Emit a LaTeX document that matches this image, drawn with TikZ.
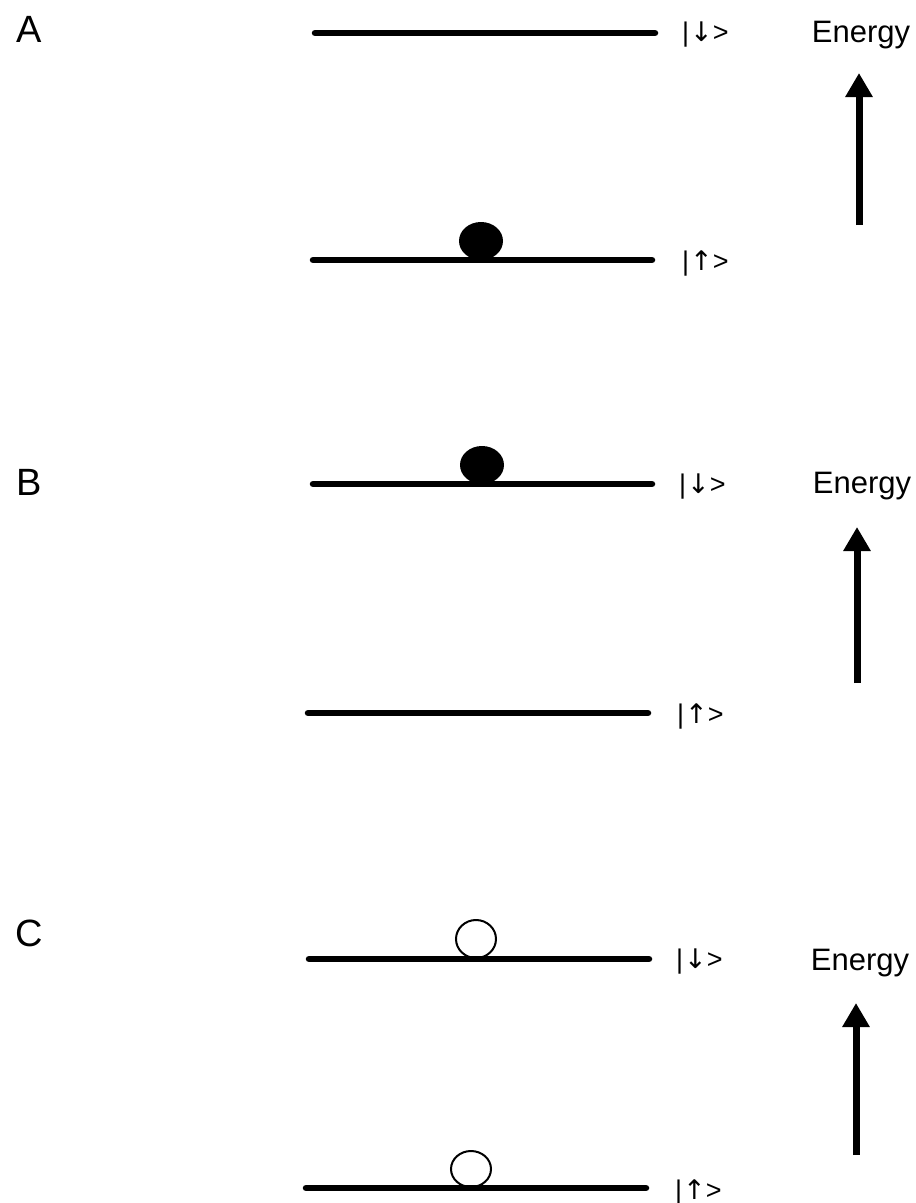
\documentclass[tikz,border=0pt]{standalone}
\usepackage{fontspec}
\setmainfont{Liberation Sans}
\newfontfamily\arrowfont{DejaVu Sans}
\usetikzlibrary{arrows.meta}
\newcommand{\ketdown}{|\kern1pt{\arrowfont ↓}\kern0pt>}
\newcommand{\ketup}{|\kern1pt{\arrowfont ↑}\kern0pt>}
\begin{document}
\begin{tikzpicture}[x=1pt,y=-1pt,
  level/.style={line width=6.5pt,line cap=round},
  earrow/.style={line width=7pt,-{Triangle[width=26pt,length=24pt]}},
  panel/.style={font=\fontsize{38}{40}\selectfont,inner sep=0pt},
  elabel/.style={font=\fontsize{31}{36}\selectfont,inner sep=0pt},
  ket/.style={font=\fontsize{27}{30}\selectfont,inner sep=0pt,anchor=west},
  openball/.style={line width=2pt}]
\useasboundingbox (0,0) rectangle (916,1203);

% ---------- Panel A ----------
\node[panel] (lA) at (29,29) {A};
\coordinate (a1l) at (315,33); \coordinate (a1r) at (655,33);
\draw[level] (a1l) -- (a1r);
\node[ket] (kA1) at (682,35) {\ketdown};
\coordinate (a2l) at (313,260); \coordinate (a2r) at (652,260);
\fill (481,241) ellipse [x radius=22, y radius=19];
\draw[level] (a2l) -- (a2r);
\node[ket] (kA2) at (682,263) {\ketup};
\node[elabel] (eA) at (861,35) {Energy};
\coordinate (ea0) at (859,225); \coordinate (ea1) at (859,73);
\draw[earrow] (ea0) -- (ea1);

% ---------- Panel B ----------
\node[panel] (lB) at (29,482) {B};
\coordinate (b1l) at (313,484); \coordinate (b1r) at (652,484);
\fill (482,465) ellipse [x radius=22, y radius=19];
\draw[level] (b1l) -- (b1r);
\node[ket] (kB1) at (679,487) {\ketdown};
\coordinate (b2l) at (308,713); \coordinate (b2r) at (648,713);
\draw[level] (b2l) -- (b2r);
\node[ket] (kB2) at (677,716) {\ketup};
\node[elabel] (eB) at (862,486) {Energy};
\coordinate (eb0) at (857,683); \coordinate (eb1) at (857,527);
\draw[earrow] (eb0) -- (eb1);

% ---------- Panel C ----------
\node[panel] (lC) at (29,933) {C};
\coordinate (c1l) at (309,959); \coordinate (c1r) at (649,959);
\draw[level] (c1l) -- (c1r);
\draw[openball] (476,939) ellipse [x radius=20, y radius=19];
\node[ket] (kC1) at (676,962) {\ketdown};
\coordinate (c2l) at (306,1188); \coordinate (c2r) at (646,1188);
\draw[level] (c2l) -- (c2r);
\draw[openball] (471,1169) ellipse [x radius=20, y radius=18];
\node[ket] (kC2) at (675,1192) {\ketup};
\node[elabel] (eC) at (860,963) {Energy};
\coordinate (ec0) at (856,1155); \coordinate (ec1) at (856,1003);
\draw[earrow] (ec0) -- (ec1);
\end{tikzpicture}
\end{document}
